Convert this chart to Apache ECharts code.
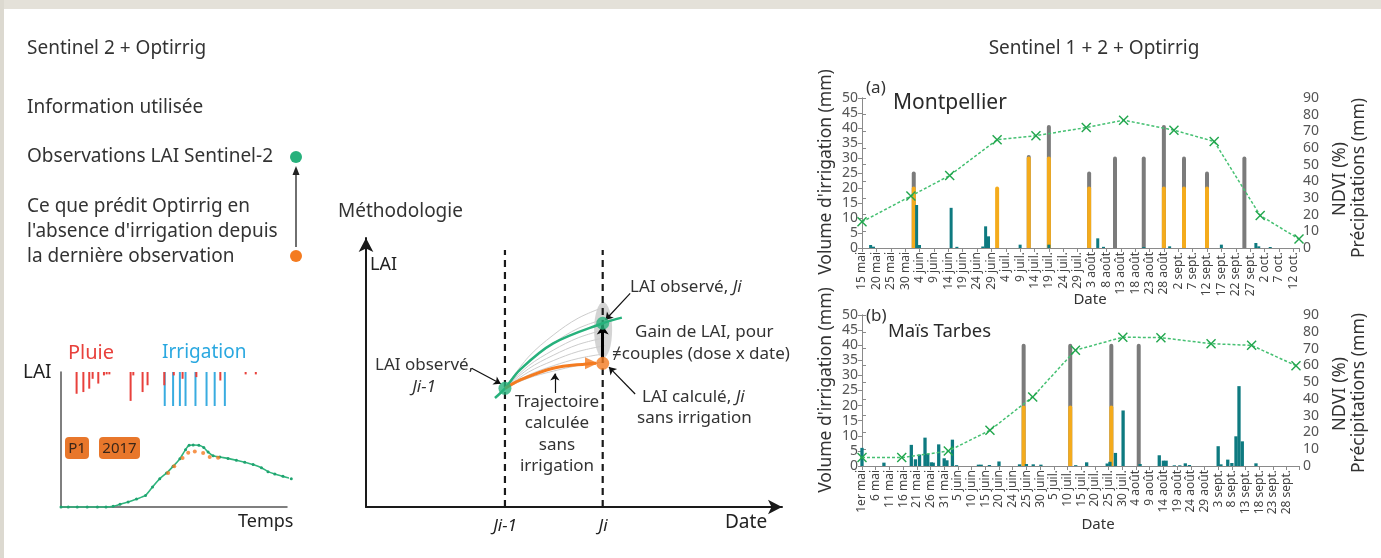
<!DOCTYPE html>
<html>
<head>
<meta charset="utf-8">
<script src="https://cdn.jsdelivr.net/npm/echarts@6.0.0/dist/echarts.min.js"></script>
<style>
  html, body { margin: 0; padding: 0; background: #ffffff; }
  #chart { width: 1381px; height: 558px; }
</style>
</head>
<body>
<div id="chart"></div>
<script>
// ---------- (a) Montpellier : days counted from 15 May ----------
const labelsA = ['15 mai','20 mai','25 mai','30 mai','4 juin','9 juin','14 juin','19 juin','24 juin','29 juin',
  '4 juil.','9 juil.','14 juil.','19 juil.','24 juil.','29 juil.','3 août','8 août','13 août','18 août',
  '23 août','28 août','2 sept.','7 sept.','12 sept.','17 sept.','22 sept.','27 sept.','2 oct.','7 oct.','12 oct.'];
const irrigDaysA  = [18, 47, 58, 65, 79, 88, 98, 105, 112, 120, 133];
const irrigTotalA = [25.5, 0, 31, 41, 25.5, 30.5, 30.5, 41, 30.5, 25.5, 30.5];
const irrigPartA  = [20.5, 20.5, 30.5, 30.5, 20.5, 0, 0, 20.5, 20.5, 20.5, 0];
const rainDaysA   = [3, 4, 19, 20, 31, 33, 42, 43, 44, 55, 65, 82, 84, 98, 107, 125, 137, 138, 142];
const rainA       = [1.8, 0.8, 25.8, 1.8, 24.1, 0.7, 0.9, 13, 7, 2.0, 2.0, 5.8, 0.7, 0.6, 1.0, 2.0, 3.0, 1.0, 0.6];
const ndviDaysA   = [0, 17, 30.5, 47, 60.5, 78, 91, 108.5, 122.5, 138.5, 152];
const ndviA       = [15.7, 31.2, 43.5, 65, 67.4, 72.3, 76.7, 70.7, 63.9, 19.5, 5.4];

// ---------- (b) Maïs Tarbes : 5 units per date tick, from 1 May ----------
const labelsB = ['1er mai','6 mai','11 mai','16 mai','21 mai','26 mai','31 mai','5 juin','10 juin','15 juin',
  '20 juin','24 juin','25 juin','30 juin','5 juil.','10 juil.','15 juil.','20 juil.','25 juil.','30 juil.',
  '4 août','9 août','14 août','19 août','24 août','29 août','3 sept.','8 sept.','13 sept.','18 sept.','23 sept.','28 sept.'];
const irrigDaysB  = [59, 76, 91, 101];
const irrigTotalB = [40.5, 40.5, 40.5, 40.5];
const irrigPartB  = [20, 20, 20, 0];
const rainDaysB   = [0, 8, 18, 19.5, 21, 23, 24, 25.3, 26, 28, 30, 31, 33, 34.5, 42.5, 43.5, 46.5, 50, 57.5, 60,
  62.5, 65.3, 78, 82, 89.5, 90.5, 92.5, 95.3, 101.5, 108.5, 110, 111, 114, 116, 118, 119.5, 130, 131, 133.5,
  135, 136.5, 137.6, 138.8, 143.8];
const rainB       = [10.8, 2.0, 12.6, 4.0, 6.8, 16.9, 7.2, 2.2, 2.0, 12.9, 4.6, 3.4, 15.7, 0.5, 0.8, 0.8, 0.6, 2.7, 1.0, 1.2,
  1.0, 0.8, 0.5, 2.2, 1.5, 2.5, 7.8, 33.1, 1.2, 6.4, 3.2, 3.2, 0.4, 0.4, 1.6, 0.6, 11.8, 1.0, 3.8,
  1.8, 17.7, 47.6, 14.7, 1.6];
const ndviDaysB   = [0, 14.5, 31.5, 46.7, 62.3, 77.9, 95.2, 109.1, 127.4, 142.2, 158.4];
const ndviB       = [5.0, 5.0, 8.9, 21.3, 41.2, 69.0, 76.8, 76.5, 72.9, 71.9, 59.8];

// ---------- small LAI panel (time 0-100, LAI 0-10) ----------
const laiTime = [0, 3.2, 7.2, 11.6, 16.1, 19.9, 23.1, 26.1, 29.7, 33.4, 37.4, 40.5, 43.7, 46.7, 49.6, 52.6, 55.1,
  56.7, 58.5, 61, 63.2, 65.1, 67.3, 70.3, 73.9, 77.6, 81.3, 85, 88.7, 91.6, 94.6, 98.2, 101.9];
const laiObs  = [0, 0, 0, 0, 0, 0, 0.05, 0.2, 0.37, 0.59, 0.86, 1.48, 2.1, 2.52, 3.01, 3.58, 4.25,
  4.57, 4.59, 4.57, 4.4, 4.07, 3.8, 3.7, 3.6, 3.46, 3.31, 3.14, 2.91, 2.62, 2.44, 2.27, 2.1];
const laiSimTime = [47.4, 50.1, 53.8, 56.3, 59.2, 62.9, 65.8, 69.5];
const laiSim     = [2.52, 3.01, 3.63, 4.02, 4.12, 4.0, 3.7, 3.65];
const pluieTime  = [6.9, 9.9, 12.5, 14.0, 16.5, 19, 20.2, 21.4, 30.8, 32, 36.1, 38.3, 45.7, 49.9, 53.8, 59.9, 70.5, 81.7, 86.2];
const pluie      = [6.4, 5.9, 4.9, 2.0, 3.4, 1.0, 0.7, 0.7, 8.5, 1.0, 5.9, 3.9, 3.9, 1.0, 2.0, 1.5, 2.5, 0.7, 0.7];
const irrTime    = [45.9, 49.6, 52.6, 55.1, 59.5, 64.4, 68.0, 72.5];
const irr        = [10, 10, 10, 10, 10, 10, 10, 10];

// ---------- methodology sketch (date 0-100, LAI 0-100) ----------
const jPrev = 33.4, jCur = 56.9;
const greenCurve  = [[31, 40.5], [33.4, 44.1], [37, 51], [45, 60.8], [56.9, 68.3], [61.5, 70.4]];
const orangeCurve = [[33.4, 44.1], [37, 47.2], [45, 51.6], [53, 53.2], [55.3, 53.4]];
const fanCurves = [
  [[33.4, 44.1], [39, 47.9], [45, 50.5], [51, 52.6], [57.5, 54]],
  [[33.4, 44.1], [39, 49.0], [45, 52.5], [51, 55.2], [57.5, 57]],
  [[33.4, 44.1], [39, 50.1], [45, 54.4], [51, 57.8], [57.5, 60]],
  [[33.4, 44.1], [39, 51.3], [45, 56.4], [51, 60.4], [57.5, 63]],
  [[33.4, 44.1], [39, 52.4], [45, 58.3], [51, 62.9], [57.5, 66]],
  [[33.4, 44.1], [39, 53.9], [45, 60.9], [51, 66.4], [57.5, 70]],
  [[33.4, 44.1], [39, 55.7], [45, 63.9], [51, 70.2], [57.5, 74.5]]
];
const obsPrev = [33.4, 44.1], obsCur = [56.9, 68.3], calcCur = [56.9, 53.4];

const FONT = '"Noto Sans", "DejaVu Sans", sans-serif';
const TXT = '#333333';
const GREEN = '#27b17c', ORANGE = '#f47b20';
const GREY_BAR = '#7b7b7b', AMBER = '#f4ab1c', TEAL = '#0e7a80';
const CROSS = 'path://M1,0L5,4L9,0L10,1L6,5L10,9L9,10L5,6L1,10L0,9L4,5L0,1Z';

const pairs = (xs, ys) => xs.map((x, i) => [x, ys[i]]).filter(p => p[1] > 0);

function txt(x, y, text, o) {
  o = o || {};
  return {
    type: 'text', x: x, y: y, rotation: o.rot || 0, z: 100, silent: true,
    style: {
      text: text, fill: o.color || TXT,
      fontSize: o.size || 19, fontFamily: FONT, fontStyle: o.italic ? 'italic' : 'normal',
      align: o.align || 'left', verticalAlign: 'middle', rich: o.rich
    }
  };
}
const richJi = {
  n: { fontSize: 17, fontFamily: FONT, fill: TXT, color: TXT },
  i: { fontSize: 17, fontFamily: FONT, fontStyle: 'italic', fill: TXT, color: TXT }
};

function dateAxis(gridIndex, labels, max) {
  return {
    type: 'value', gridIndex: gridIndex, min: 0, max: max, interval: 5,
    axisLine: { show: true, onZero: false, lineStyle: { color: '#8a8a8a', width: 1 } },
    axisTick: { show: true, length: 4, lineStyle: { color: '#8a8a8a' } },
    splitLine: { show: false },
    axisLabel: {
      rotate: 90, fontSize: 12, color: '#444', fontFamily: FONT, margin: 4,
      formatter: v => (Math.abs(v % 5) < 1e-6 ? (labels[Math.round(v / 5)] || '') : '')
    }
  };
}
function hiddenX(gridIndex, max) {
  return { type: 'value', gridIndex: gridIndex, min: 0, max: max, show: false };
}
function valueY(gridIndex, max, interval, pos) {
  return {
    type: 'value', gridIndex: gridIndex, min: 0, max: max, interval: interval, position: pos,
    axisLine: { show: true, lineStyle: { color: '#8a8a8a', width: 1 } },
    axisTick: { show: true, length: 4, lineStyle: { color: '#8a8a8a' } },
    splitLine: { show: false },
    axisLabel: { fontSize: 14, color: '#555', fontFamily: FONT, margin: 4 }
  };
}
function barSeries(xi, yi, data, color, width, radius) {
  return {
    type: 'bar', xAxisIndex: xi, yAxisIndex: yi, data: data, barWidth: width, barGap: '-100%',
    itemStyle: { color: color, borderRadius: radius ? [2, 2, 0, 0] : 0 }, silent: true
  };
}
function ndviSeries(xi, yi, data) {
  return {
    type: 'line', xAxisIndex: xi, yAxisIndex: yi, data: data, z: 5, silent: true,
    symbol: CROSS, symbolSize: 10, showAllSymbol: true,
    itemStyle: { color: '#21a64d' },
    lineStyle: { color: '#45c072', width: 1.5, type: [3, 2] }
  };
}
function sketchLine(data, color, width, z, smooth, dash) {
  return {
    type: 'line', xAxisIndex: 6, yAxisIndex: 6, data: data, symbol: 'none', smooth: smooth,
    lineStyle: { color: color, width: width, type: dash || 'solid' }, z: z, silent: true, clip: false
  };
}
function arrowPair(a, b) {
  return [{ coord: a, symbol: 'none' }, { coord: b, symbol: 'arrow' }];
}
const sketchAxis = (idx) => ({
  type: 'value', gridIndex: idx, min: 0, max: 100,
  axisLine: { show: true, onZero: false, symbol: ['none', 'arrow'], symbolSize: [11, 14], symbolOffset: [0, 0],
    lineStyle: { color: '#1a1a1a', width: 2 } },
  axisTick: { show: false }, axisLabel: { show: false }, splitLine: { show: false }
});

const option = {
  animation: false,
  backgroundColor: '#ffffff',
  grid: [
    { left: 862, top: 98, width: 437, height: 150, outerBoundsMode: 'none' },   // (a)
    { left: 862, top: 315, width: 437, height: 151, outerBoundsMode: 'none' },  // (b)
    { left: 61, top: 372, width: 226, height: 135, outerBoundsMode: 'none' },   // LAI panel
    { left: 61, top: 372, width: 226, height: 34, outerBoundsMode: 'none' },    // rain / irrigation ticks
    { left: 366, top: 238, width: 416, height: 269, outerBoundsMode: 'none' }   // methodology
  ],
  xAxis: [
    dateAxis(0, labelsA, 152), hiddenX(0, 152),
    dateAxis(1, labelsB, 159.5), hiddenX(1, 159.5),
    { type: 'value', gridIndex: 2, min: 0, max: 100,
      axisLine: { show: true, onZero: false, lineStyle: { color: '#555', width: 1.5 } },
      axisTick: { show: false }, axisLabel: { show: false }, splitLine: { show: false } },
    hiddenX(3, 100),
    sketchAxis(4)
  ],
  yAxis: [
    valueY(0, 50, 5, 'left'), valueY(0, 90, 10, 'right'),
    valueY(1, 50, 5, 'left'), valueY(1, 90, 10, 'right'),
    { type: 'value', gridIndex: 2, min: 0, max: 10,
      axisLine: { show: true, onZero: false, lineStyle: { color: '#555', width: 1.5 } },
      axisTick: { show: false }, axisLabel: { show: false }, splitLine: { show: false } },
    { type: 'value', gridIndex: 3, min: 0, max: 10, inverse: true, show: false },
    sketchAxis(4)
  ],
  series: [
    // (a) Montpellier
    barSeries(0, 0, pairs(irrigDaysA, irrigTotalA), GREY_BAR, 4, true),
    barSeries(0, 0, pairs(irrigDaysA, irrigPartA), AMBER, 4, true),
    barSeries(1, 1, pairs(rainDaysA, rainA), TEAL, 3, false),
    ndviSeries(0, 1, pairs(ndviDaysA, ndviA)),
    // (b) Maïs Tarbes
    barSeries(2, 2, pairs(irrigDaysB, irrigTotalB), GREY_BAR, 4, true),
    barSeries(2, 2, pairs(irrigDaysB, irrigPartB), AMBER, 4, true),
    barSeries(3, 3, pairs(rainDaysB, rainB), TEAL, 3.3, false),
    ndviSeries(2, 3, pairs(ndviDaysB, ndviB)),
    // LAI panel
    { type: 'line', xAxisIndex: 4, yAxisIndex: 4, data: laiTime.map((t, i) => [t, laiObs[i]]), clip: false,
      symbol: 'circle', symbolSize: 3, showAllSymbol: true, smooth: 0.2, silent: true,
      itemStyle: { color: '#1fa370' }, lineStyle: { color: '#2fb47c', width: 1.6 } },
    { type: 'scatter', xAxisIndex: 4, yAxisIndex: 4, data: laiSimTime.map((t, i) => [t, laiSim[i]]),
      symbolSize: 4, itemStyle: { color: ORANGE }, silent: true, z: 3 },
    barSeries(5, 5, irrTime.map((t, i) => [t, irr[i]]), '#39ace0', 2, false),
    barSeries(5, 5, pluieTime.map((t, i) => [t, pluie[i]]), '#e8413c', 2, false),
    // methodology sketch
    { type: 'scatter', xAxisIndex: 6, yAxisIndex: 6, data: [[57, 65.8]], symbolSize: [18, 56], silent: true, z: 1,
      itemStyle: { color: '#cfcfcf', opacity: 0.9 } },
    ...fanCurves.map(c => sketchLine(c, '#cccccc', 1, 2, 0.35)),
    sketchLine([[jPrev, 0], [jPrev, 95.5]], '#1a1a1a', 2.2, 3, false, [7, 5]),
    sketchLine([[jCur, 0], [jCur, 95.5]], '#1a1a1a', 2.2, 3, false, [7, 5]),
    sketchLine(greenCurve, GREEN, 2.5, 4, 0.35),
    sketchLine(orangeCurve, ORANGE, 3, 4, 0.35),
    { type: 'scatter', xAxisIndex: 6, yAxisIndex: 6, data: [[54.2, 53.4]], symbol: 'triangle', symbolRotate: -90,
      symbolSize: [12, 13], itemStyle: { color: ORANGE }, silent: true, z: 4 },
    { type: 'scatter', xAxisIndex: 6, yAxisIndex: 6, data: [obsPrev, obsCur], symbolSize: 13, silent: true, z: 6,
      itemStyle: { color: GREEN },
      markLine: {
        silent: true, animation: false, symbolSize: 7, label: { show: false },
        lineStyle: { color: '#111', width: 1.2, type: 'solid' },
        data: [
          arrowPair([25.4, 51.6], [32.4, 45.8]),
          arrowPair([45.4, 42.4], [45.4, 49.6]),
          arrowPair([63.5, 79.4], [57.6, 69.6]),
          arrowPair([64.7, 42.0], [58.4, 52.0])
        ]
      } },
    { type: 'scatter', xAxisIndex: 6, yAxisIndex: 6, data: [calcCur], symbolSize: 13, silent: true, z: 6,
      itemStyle: { color: ORANGE },
      markLine: {
        silent: true, animation: false, symbolSize: 9, label: { show: false },
        lineStyle: { color: '#000', width: 3, type: 'solid' },
        data: [arrowPair([jCur, 55.5], [jCur, 67.5])]
      } }
  ],
  graphic: [
    // frame
    { type: 'rect', shape: { x: 0, y: 0, width: 1381, height: 9 }, style: { fill: '#e4e1d9' }, silent: true },
    { type: 'rect', shape: { x: 0, y: 0, width: 4, height: 558 }, style: { fill: '#dcd9d0' }, silent: true },

    // left panel
    txt(27, 49, 'Sentinel 2 + Optirrig'),
    txt(27, 108, 'Information utilisée'),
    txt(27, 157, 'Observations LAI Sentinel-2'),
    txt(27, 207, 'Ce que prédit Optirrig en'),
    txt(27, 232, "l'absence d'irrigation depuis"),
    txt(27, 257, 'la dernière observation'),
    { type: 'line', shape: { x1: 296, y1: 247, x2: 296, y2: 172 }, style: { stroke: '#222', lineWidth: 1.3 }, silent: true },
    { type: 'polygon', shape: { points: [[296, 166], [292.5, 175], [299.5, 175]] }, style: { fill: '#222' }, silent: true },
    { type: 'circle', shape: { cx: 296, cy: 157, r: 6 }, style: { fill: GREEN }, silent: true },
    { type: 'circle', shape: { cx: 296, cy: 256, r: 6 }, style: { fill: ORANGE }, silent: true },

    txt(68, 353, 'Pluie', { color: '#e8413c', size: 20 }),
    txt(162, 353, 'Irrigation', { color: '#2aa8e0', size: 19 }),
    txt(23, 373, 'LAI', { size: 19, color: '#222' }),
    txt(238, 522, 'Temps', { size: 18, color: '#222' }),
    { type: 'rect', shape: { x: 65, y: 437, width: 24, height: 22, r: 4 }, style: { fill: '#e8772b' }, silent: true },
    { type: 'rect', shape: { x: 99, y: 437, width: 41, height: 22, r: 4 }, style: { fill: '#e8772b' }, silent: true },
    txt(77, 448.5, 'P1', { align: 'center', size: 15, color: '#3a2618' }),
    txt(119.5, 448.5, '2017', { align: 'center', size: 15, color: '#3a2618' }),

    // methodology
    txt(338, 212, 'Méthodologie', { size: 19 }),
    txt(370, 265, 'LAI', { size: 18, color: '#222' }),
    txt(725, 523, 'Date', { size: 19, color: '#222' }),
    txt(505, 526, 'Ji-1', { align: 'center', italic: true, color: '#222', size: 17 }),
    txt(603, 526, 'Ji', { align: 'center', italic: true, color: '#222', size: 17 }),
    txt(630, 287, '{n|LAI observé, }{i|Ji}', { rich: richJi, size: 17 }),
    txt(635, 332, 'Gain de LAI, pour', { size: 17 }),
    txt(612, 354, '≠couples (dose x date)', { size: 17 }),
    txt(375, 365, 'LAI observé,', { size: 17 }),
    txt(424, 387, 'Ji-1', { align: 'center', italic: true, size: 17 }),
    txt(557, 402, 'Trajectoire', { align: 'center', size: 17 }),
    txt(557, 423, 'calculée', { align: 'center', size: 17 }),
    txt(557, 445, 'sans', { align: 'center', size: 17 }),
    txt(557, 466, 'irrigation', { align: 'center', size: 17 }),
    txt(642, 397, '{n|LAI calculé, }{i|Ji}', { rich: richJi, size: 17 }),
    txt(637, 418, 'sans irrigation', { size: 17 }),

    // right panel titles
    txt(1094, 49, 'Sentinel 1 + 2 + Optirrig', { align: 'center', size: 19 }),
    txt(866, 88, '(a)', { size: 17 }),
    txt(893, 103, 'Montpellier', { size: 21, color: '#2a2a2a' }),
    txt(866, 316, '(b)', { size: 17 }),
    txt(888, 332, 'Maïs Tarbes', { size: 18.5, color: '#2a2a2a' }),
    txt(826, 172, "Volume d'irrigation (mm)", { align: 'center', rot: Math.PI / 2, size: 17.5 }),
    txt(826, 390, "Volume d'irrigation (mm)", { align: 'center', rot: Math.PI / 2, size: 17.5 }),
    txt(1340, 179, 'NDVI (%)', { align: 'center', rot: Math.PI / 2, size: 18 }),
    txt(1359, 178, 'Précipitations (mm)', { align: 'center', rot: Math.PI / 2, size: 17.5 }),
    txt(1340, 394, 'NDVI (%)', { align: 'center', rot: Math.PI / 2, size: 18 }),
    txt(1359, 393, 'Précipitations (mm)', { align: 'center', rot: Math.PI / 2, size: 17.5 }),
    txt(1090, 300, 'Date', { align: 'center', size: 15 }),
    txt(1098, 525, 'Date', { align: 'center', size: 15 })
  ]
};

const chart = echarts.init(document.getElementById('chart'));
chart.setOption(option);
</script>
</body>
</html>
